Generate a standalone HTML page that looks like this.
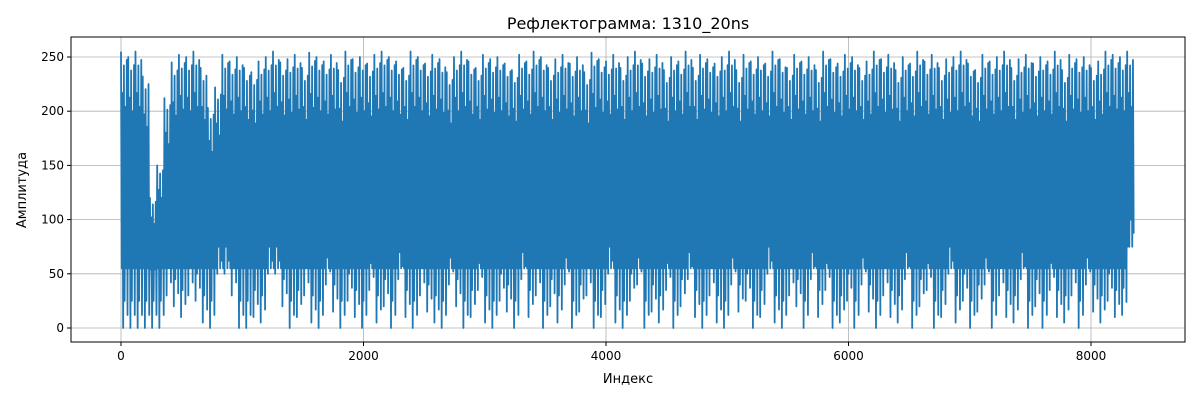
<!DOCTYPE html>
<html><head><meta charset="utf-8"><style>
body{margin:0;background:#fff;}
svg{display:block;font-family:"DejaVu Sans","Liberation Sans",sans-serif;}
</style></head><body>
<svg id="chart" width="1200" height="400">
<rect x="0" y="0" width="1200" height="400" fill="#fff"/>
<g id="grid"></g>
<g id="series"></g>
<rect x="71" y="37" width="1114" height="305" fill="none" stroke="#000" stroke-width="1"/>
<g id="xticks"></g>
<g id="yticks"></g>
<text x="628" y="29" font-size="16" text-anchor="middle">Рефлектограмма: 1310_20ns</text>
<text x="628" y="383" font-size="13" text-anchor="middle">Индекс</text>
<text x="26" y="190" font-size="13" text-anchor="middle" transform="rotate(-90 26 190)">Амплитуда</text>
</svg>
<script>
const xTicks=[0,2000,4000,6000,8000];
const yTicks=[0,50,100,150,200,250];
const binSize=59.7;
const hiVals=[255,250,255,232,120,150,212,245,252,250,255,240,203,222,252,246,250,240,236,246,250,255,245,248,252,240,254,250,246,252,238,255,248,250,244,252,255,250,246,240,255,250,244,252,248,236,250,255,246,240,252,248,250,244,238,252,246,255,250,240,248,252,244,250,236,254,248,246,252,240,250,255,244,248,252,238,250,246,255,240,252,248,244,250,255,238,252,246,250,244,255,248,240,252,246,250,238,255,248,244,252,250,240,246,255,248,252,238,250,244,255,246,252,240,248,250,255,244,238,252,246,250,255,240,248,252,244,250,246,255,238,252,248,250,240,246,255,252,250,255];
const loVals=[0,0,0,0,0,0,30,20,10,30,25,5,0,50,50,30,0,0,10,5,50,50,20,0,10,30,5,0,40,15,0,25,10,0,35,5,20,0,45,10,0,30,15,5,0,40,20,0,10,35,5,0,25,15,0,45,10,30,0,20,5,40,0,15,30,0,10,50,5,0,25,40,0,15,5,35,0,20,45,10,0,30,5,0,40,15,25,0,10,50,5,0,30,20,0,45,10,35,0,5,25,0,40,15,0,30,10,5,45,0,20,35,0,10,50,5,25,0,15,40,0,30,10,5,45,0,20,0,35,10,5,30,0,40,15,5,25,10,12,75];
const NS='http://www.w3.org/2000/svg';
const L=71,R=1185,T=37,B=342;
function xs(v){return 121+(v-0)*(1091-121)/8000;}
function ys(v){return 328-v*(328-57)/250;}
const grid=document.getElementById('grid'),xt=document.getElementById('xticks'),yt=document.getElementById('yticks'),ser=document.getElementById('series');
xTicks.forEach(t=>{
  const x=xs(t);
  const g=document.createElementNS(NS,'line');
  g.setAttribute('x1',x);g.setAttribute('x2',x);g.setAttribute('y1',T);g.setAttribute('y2',B);
  g.setAttribute('stroke','#b0b0b0');g.setAttribute('stroke-width','0.8');
  
  
  grid.appendChild(g);
  const tk=document.createElementNS(NS,'line');
  tk.setAttribute('x1',x);tk.setAttribute('x2',x);tk.setAttribute('y1',B);tk.setAttribute('y2',B+4);tk.setAttribute('stroke','#000');
  
  
  xt.appendChild(tk);
  const tx=document.createElementNS(NS,'text');
  tx.setAttribute('x',x);tx.setAttribute('y',B+18);tx.setAttribute('font-size','12');tx.setAttribute('text-anchor','middle');
  tx.textContent=t;
  
  
  xt.appendChild(tx);
});
yTicks.forEach(t=>{
  const y=ys(t);
  const g=document.createElementNS(NS,'line');
  g.setAttribute('x1',L);g.setAttribute('x2',R);g.setAttribute('y1',y);g.setAttribute('y2',y);
  g.setAttribute('stroke','#b0b0b0');g.setAttribute('stroke-width','0.8');
  
  
  grid.appendChild(g);
  const tk=document.createElementNS(NS,'line');
  tk.setAttribute('x1',L-4);tk.setAttribute('x2',L);tk.setAttribute('y1',y);tk.setAttribute('y2',y);tk.setAttribute('stroke','#000');
  
  
  yt.appendChild(tk);
  const tx=document.createElementNS(NS,'text');
  tx.setAttribute('x',L-7);tx.setAttribute('y',y+4);tx.setAttribute('font-size','12');tx.setAttribute('text-anchor','end');
  tx.textContent=t;
  
  
  yt.appendChild(tx);
});
// dense zigzag through each bin's high/low values
let pts=[];
for(let i=0;i<hiVals.length;i++){
  const x0=i*binSize;
  const h=hiVals[i],l=loVals[i];
  const floor=Math.max(l,Math.min(55,h*0.45));
  const sub=[h,floor,h*0.85,l,h*0.95,l+25,h*0.8,floor,h*0.97,l+12];
  for(let k=0;k<sub.length;k++){
    pts.push(xs(x0+k*binSize/sub.length).toFixed(2)+','+ys(sub[k]).toFixed(2));
  }
}
const pl=document.createElementNS(NS,'polyline');
pl.setAttribute('points',pts.join(' '));
pl.setAttribute('fill','none');pl.setAttribute('stroke','#1f77b4');pl.setAttribute('stroke-width','1.8');pl.setAttribute('stroke-linejoin','round');


ser.appendChild(pl);
</script>
</body></html>
